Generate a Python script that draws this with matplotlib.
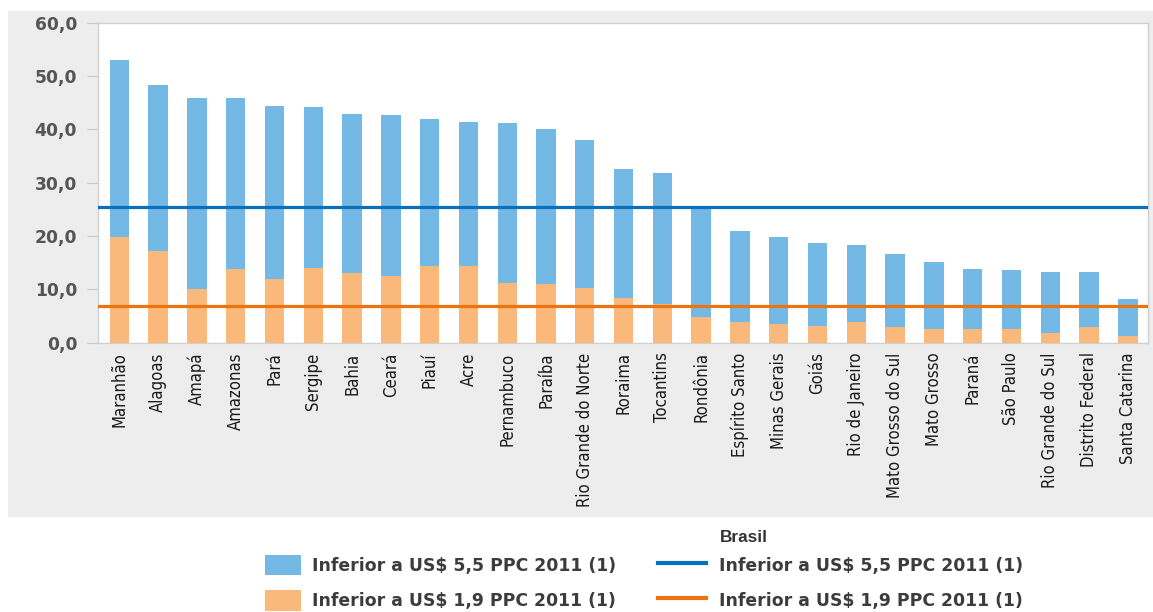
import matplotlib
matplotlib.use("Agg")
import matplotlib.pyplot as plt
from matplotlib import font_manager
from matplotlib.patches import Rectangle, Patch
from matplotlib.lines import Line2D
from matplotlib.ticker import FuncFormatter

# Share of population (%) below each poverty line, by state
estados = ["Maranhão", "Alagoas", "Amapá", "Amazonas", "Pará", "Sergipe", "Bahia",
           "Ceará", "Piauí", "Acre", "Pernambuco", "Paraíba", "Rio Grande do Norte",
           "Roraima", "Tocantins", "Rondônia", "Espírito Santo", "Minas Gerais",
           "Goiás", "Rio de Janeiro", "Mato Grosso do Sul", "Mato Grosso", "Paraná",
           "São Paulo", "Rio Grande do Sul", "Distrito Federal", "Santa Catarina"]
abaixo_5_5 = [53.0, 48.3, 45.8, 45.8, 44.4, 44.1, 42.8, 42.6, 42.0, 41.3, 41.1, 40.1,
              38.0, 32.6, 31.8, 25.2, 21.0, 19.9, 18.6, 18.3, 16.6, 15.2, 13.9,
              13.7, 13.3, 13.3, 8.2]
abaixo_1_9 = [19.9, 17.2, 10.0, 13.8, 11.9, 14.1, 13.0, 12.5, 14.3, 14.4, 11.2, 11.1,
              10.2, 8.4, 7.2, 4.9, 3.9, 3.6, 3.1, 3.8, 3.0, 2.5, 2.5, 2.5, 1.9, 3.0, 1.3]
brasil_5_5 = 25.5
brasil_1_9 = 6.8

rotulo = "Inferior a US$ 5,5 PPC 2011 (1)"
rotulo2 = "Inferior a US$ 1,9 PPC 2011 (1)"

c_bar_azul = "#74b8e6"
c_bar_laranja = "#fbb87b"
c_lin_azul = "#0b70bb"
c_lin_laranja = "#eb740f"

# pick a narrow face for the state names when one is available
fontes = font_manager.fontManager.ttflist
nomes = {f.name for f in fontes}
if "Liberation Sans Narrow" in nomes:
    fonte_x = dict(family="Liberation Sans Narrow", fontsize=13.5)
elif any(f.name == "DejaVu Sans" and f.stretch == "condensed" for f in fontes):
    fonte_x = dict(family="DejaVu Sans", fontstretch="condensed", fontsize=12)
else:
    fonte_x = dict(family="Liberation Sans", fontsize=11.4)

W, H = 1153, 612
fig = plt.figure(figsize=(W / 100, H / 100), dpi=100)
fig.patch.set_facecolor("white")

# grey panel behind the chart
fig.add_artist(Rectangle((8 / W, 1 - 517 / H), 1 - 8 / W, (517 - 11) / H,
                         transform=fig.transFigure, facecolor="#ededed",
                         edgecolor="none", zorder=0))

ax = fig.add_axes([98 / W, 1 - 342.7 / H, (1148 - 98) / W, (342.7 - 22.7) / H])
ax.set_facecolor("white")

x = range(len(estados))
ax.bar(x, abaixo_5_5, width=0.5, color=c_bar_azul, zorder=2)
ax.bar(x, abaixo_1_9, width=0.5, color=c_bar_laranja, zorder=3)
ax.axhline(brasil_5_5, color=c_lin_azul, lw=2.3, zorder=4)
ax.axhline(brasil_1_9, color=c_lin_laranja, lw=2.3, zorder=4)

ax.set_xlim(-0.55, len(estados) - 0.48)
ax.set_ylim(0, 60)
ax.set_yticks(range(0, 61, 10))
ax.yaxis.set_major_formatter(FuncFormatter(lambda v, p: f"{v:.1f}".replace(".", ",")))
ax.tick_params(axis="y", length=8, color="#c8c8c8", pad=7, labelsize=12.3,
               labelcolor="#555555")
for t in ax.get_yticklabels():
    t.set_fontweight("bold")
    t.set_family("DejaVu Sans")

ax.set_xticks(list(x))
ax.set_xticklabels(estados, rotation=90, color="#1a1a1a", **fonte_x)
ax.tick_params(axis="x", length=0, pad=7)

for s in ax.spines.values():
    s.set_color("#d0d0d0")
    s.set_linewidth(1)

prop_leg = {"family": "DejaVu Sans", "weight": "bold", "size": 12.4}

# legend: bars
h1 = [Patch(facecolor=c_bar_azul, edgecolor="none"),
      Patch(facecolor=c_bar_laranja, edgecolor="none")]
leg1 = fig.legend(h1, [rotulo, rotulo2], loc="upper left",
                  bbox_to_anchor=(265 / W, 1 - 555 / H), frameon=False, prop=prop_leg,
                  handlelength=2.1, handleheight=1.45, handletextpad=0.65,
                  labelspacing=0.85, borderpad=0, borderaxespad=0)
for t in leg1.get_texts():
    t.set_color("#3c3c3c")

# legend: national reference lines
h2 = [Line2D([], [], color=c_lin_azul, lw=3), Line2D([], [], color=c_lin_laranja, lw=3)]
leg2 = fig.legend(h2, [rotulo, rotulo2], loc="upper left",
                  bbox_to_anchor=(658 / W, 1 - 555 / H), frameon=False, prop=prop_leg,
                  handlelength=2.8, handleheight=1.45, handletextpad=0.75,
                  labelspacing=0.85, borderpad=0, borderaxespad=0)
for t in leg2.get_texts():
    t.set_color("#3c3c3c")

fig.text(744 / W, 1 - 537 / H, "Brasil", ha="center", va="center",
         fontsize=12.4, fontweight="bold", family="Liberation Sans", color="#333333")

fig.savefig("out.png", dpi=100)
